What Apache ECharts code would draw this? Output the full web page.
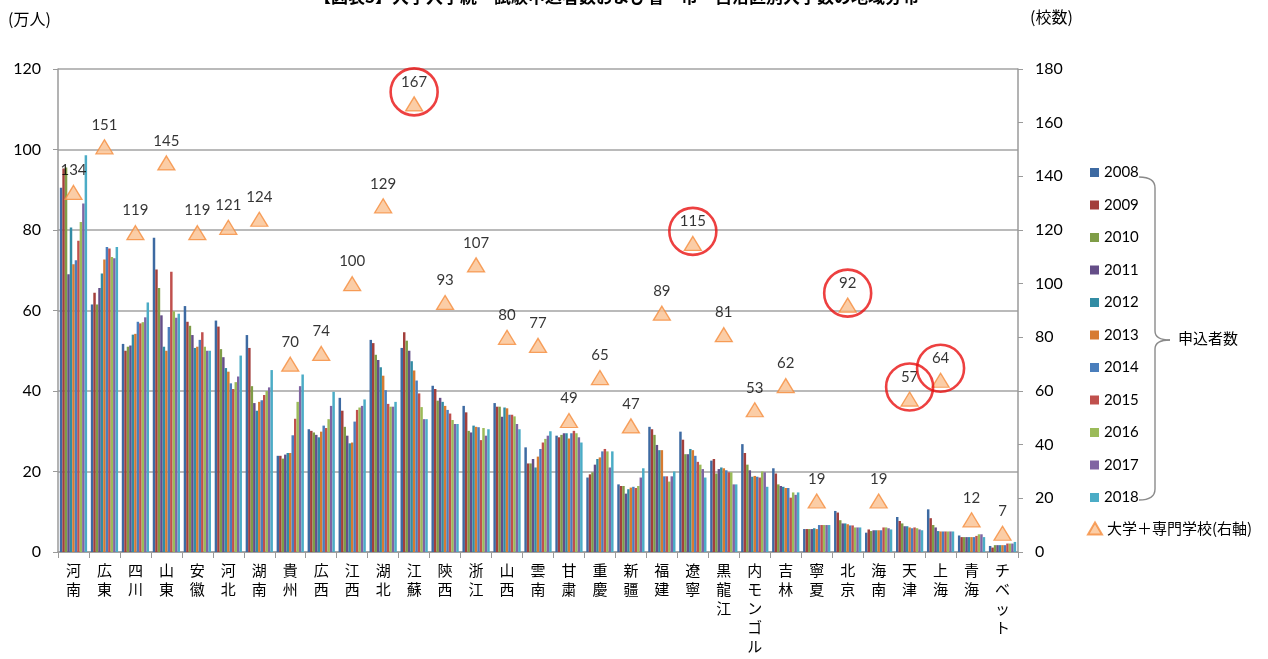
<!DOCTYPE html>
<html>
<head>
<meta charset="utf-8">
<script src="https://cdn.jsdelivr.net/npm/echarts@6/dist/echarts.min.js"></script>
<style>
  html, body { margin: 0; padding: 0; background: #fff; }
  #chart { width: 1268px; height: 659px; }
</style>
</head>
<body>
<div id="chart"></div>
<script>
// 省・市・自治区
const provinces = ['河南','広東','四川','山東','安徽','河北','湖南','貴州','広西','江西','湖北','江蘇','陝西','浙江','山西','雲南','甘粛','重慶','新疆','福建','遼寧','黒龍江','内モンゴル','吉林','寧夏','北京','海南','天津','上海','青海','チベット'];

// 申込者数（万人）
const years = ['2008','2009','2010','2011','2012','2013','2014','2015','2016','2017','2018'];
const y2008 = [90.5,61.5,51.7,78.1,61.1,57.5,53.9,23.9,30.5,38.3,52.7,50.7,41.3,36.3,37.0,26.0,28.9,18.5,16.8,31.1,29.9,22.7,26.8,20.8,5.7,10.2,4.8,8.7,10.6,4.1,1.5];
const y2009 = [95.3,64.4,50.0,70.2,57.2,56.0,50.7,23.9,30.1,35.1,51.9,54.6,40.5,34.7,36.1,22.0,28.5,19.3,16.4,30.5,27.9,23.1,24.6,19.5,5.7,9.8,5.6,7.7,8.4,3.7,1.1];
const y2010 = [95.5,61.5,51.0,65.6,56.2,50.4,41.2,23.2,29.7,31.1,49.0,52.5,37.6,30.1,36.1,22.0,29.1,19.8,16.4,29.1,24.3,19.5,21.7,16.8,5.7,7.9,5.2,7.1,6.7,3.7,1.7];
const y2011 = [69.0,65.6,51.3,58.8,53.9,48.4,37.0,24.2,29.1,28.9,47.7,50.0,38.3,29.7,33.6,23.1,29.5,21.7,14.5,26.6,24.3,20.6,20.3,16.4,5.7,7.1,5.4,6.4,6.1,3.7,1.7];
const y2012 = [80.6,69.2,54.0,51.0,50.7,45.7,35.1,24.6,28.5,27.0,45.9,47.4,37.3,31.4,35.9,21.0,29.5,23.1,15.6,25.3,25.6,21.0,18.7,16.2,5.9,7.1,5.4,6.4,5.2,3.7,1.7];
const y2013 = [71.5,72.7,54.2,50.0,51.0,44.8,37.3,24.6,29.9,27.2,43.8,45.1,36.3,31.1,35.7,23.7,28.2,23.5,16.0,25.3,25.3,20.8,18.9,15.9,5.7,6.9,5.4,6.1,5.1,3.7,1.7];
const y2014 = [72.5,75.8,57.2,55.9,52.7,41.9,37.7,29.0,31.4,32.4,40.2,42.6,35.3,31.0,34.1,25.6,29.5,25.0,16.2,18.8,23.9,20.3,18.7,15.9,6.7,6.6,5.4,5.9,5.1,3.7,1.7];
const y2015 = [77.3,75.4,56.8,69.6,54.6,40.5,39.0,33.1,30.8,35.3,36.8,39.4,34.4,27.8,34.1,27.2,30.1,25.6,15.9,18.8,22.4,19.8,18.5,13.5,6.7,6.6,6.1,6.1,5.1,4.0,2.1];
const y2016 = [82.0,73.3,57.1,59.8,51.0,42.2,40.0,37.3,33.0,35.9,36.1,36.0,32.8,30.8,33.7,28.1,29.5,25.0,16.4,17.5,21.7,19.8,20.0,14.8,6.7,6.1,6.1,5.9,5.1,4.4,2.1];
const y2017 = [86.6,73.0,58.3,58.2,50.0,43.6,40.9,41.2,36.3,36.3,36.1,33.0,31.8,28.9,31.8,28.9,28.5,21.0,18.5,18.8,20.6,16.8,19.8,14.2,6.7,6.1,5.9,5.6,5.1,4.4,2.1];
const y2018 = [98.6,75.8,62.0,59.2,50.0,48.8,45.2,44.1,39.8,37.9,37.3,33.0,31.8,30.5,30.5,30.0,27.2,25.0,20.8,20.0,18.5,16.8,16.2,14.8,6.7,6.1,5.6,5.4,5.1,3.7,2.5];
const applicants = [y2008,y2009,y2010,y2011,y2012,y2013,y2014,y2015,y2016,y2017,y2018];

// 大学＋専門学校の校数（右軸）
const schools = [134,151,119,145,119,121,124,70,74,100,129,167,93,107,80,77,49,65,47,89,115,81,53,62,19,92,19,57,64,12,7];

// 丸で囲む省・市
const highlighted = ['江蘇','遼寧','北京','天津','上海'];

// 目盛
const leftTicks = { min: 0, max: 120, interval: 20 };
const rightTicks = { min: 0, max: 180, interval: 20 };

const yearColors = ['#3D6AA2','#A33F3C','#7F9D47','#654E88','#328CA4','#D77B31','#4A7EBC','#C0504D','#9BBB59','#8064A2','#4BACC6'];

const numFont = "Lato, 'Liberation Sans', sans-serif";
const cjkFont = "'Noto Sans CJK JP', sans-serif";

const chart = echarts.init(document.getElementById('chart'), null, { renderer: 'canvas' });

const barSeries = years.map((y, i) => ({
  name: y,
  type: 'bar',
  yAxisIndex: 0,
  data: applicants[i],
  barGap: '0%',
  barCategoryGap: '12%',
  itemStyle: { color: yearColors[i] },
  emphasis: { disabled: true }
}));

const schoolName = '大学＋専門学校(右軸)';

// 申込者数をまとめる波括弧
const braceStyle = { stroke: '#8a8a8a', lineWidth: 1.4, fill: null };
const brace = [
  { type: 'bezierCurve', shape: { x1: 1139, y1: 177, x2: 1155, y2: 188, cpx1: 1155, cpy1: 177 }, style: braceStyle },
  { type: 'line', shape: { x1: 1155, y1: 188, x2: 1155, y2: 331 }, style: braceStyle },
  { type: 'bezierCurve', shape: { x1: 1155, y1: 331, x2: 1170, y2: 340, cpx1: 1155, cpy1: 340 }, style: braceStyle },
  { type: 'bezierCurve', shape: { x1: 1170, y1: 340, x2: 1155, y2: 349, cpx1: 1155, cpy1: 340 }, style: braceStyle },
  { type: 'line', shape: { x1: 1155, y1: 349, x2: 1155, y2: 489 }, style: braceStyle },
  { type: 'bezierCurve', shape: { x1: 1155, y1: 489, x2: 1139, y2: 500, cpx1: 1155, cpy1: 500 }, style: braceStyle }
];

const option = {
  animation: false,
  textStyle: { fontFamily: cjkFont },
  grid: { left: 58, right: 250, top: 69, bottom: 107, containLabel: false },
  legend: [
    {
      data: years,
      orient: 'vertical',
      left: 1085,
      top: 160,
      itemWidth: 9,
      itemHeight: 9,
      itemGap: 17.5,
      icon: 'rect',
      textStyle: { fontSize: 15, color: '#000', fontFamily: numFont },
      selectedMode: false
    },
    {
      data: [schoolName],
      orient: 'vertical',
      left: 1082,
      top: 516,
      itemWidth: 14,
      itemHeight: 12,
      itemGap: 5,
      textStyle: { fontSize: 15, color: '#000', fontFamily: cjkFont },
      selectedMode: false
    }
  ],
  xAxis: {
    type: 'category',
    data: provinces,
    axisLine: { lineStyle: { color: '#9a9a9a', width: 1.5 } },
    axisTick: { show: true, length: 6, lineStyle: { color: '#9a9a9a' } },
    axisLabel: {
      interval: 0,
      margin: 9,
      color: '#000',
      fontSize: 15,
      lineHeight: 19,
      fontFamily: cjkFont,
      formatter: v => v.split('').join('\n')
    }
  },
  yAxis: [
    {
      type: 'value',
      min: leftTicks.min, max: leftTicks.max, interval: leftTicks.interval,
      axisLine: { show: true, lineStyle: { color: '#9a9a9a', width: 1.5 } },
      axisTick: { show: true, length: 5, lineStyle: { color: '#9a9a9a' } },
      splitLine: { show: true, lineStyle: { color: '#a3a3a3', width: 1.6 } },
      axisLabel: { color: '#000', fontSize: 16, margin: 17, fontFamily: numFont }
    },
    {
      type: 'value',
      position: 'right',
      min: rightTicks.min, max: rightTicks.max, interval: rightTicks.interval,
      axisLine: { show: true, lineStyle: { color: '#9a9a9a', width: 1.5 } },
      axisTick: { show: true, length: 5, lineStyle: { color: '#9a9a9a' } },
      splitLine: { show: false },
      axisLabel: { color: '#000', fontSize: 16, margin: 17, fontFamily: numFont }
    }
  ],
  series: barSeries.concat([
    {
      name: schoolName,
      type: 'scatter',
      yAxisIndex: 1,
      data: schools,
      symbol: 'triangle',
      symbolSize: [17, 14],
      z: 5,
      itemStyle: { color: '#FAC090', borderColor: '#F58C3C', borderWidth: 1.3 },
      label: {
        show: true,
        position: 'top',
        distance: 7,
        color: '#000',
        fontSize: 15,
        fontFamily: numFont
      },
      emphasis: { disabled: true }
    },
    {
      name: 'highlight',
      type: 'scatter',
      yAxisIndex: 1,
      data: provinces.map((p, i) => highlighted.includes(p) ? schools[i] : '-'),
      symbol: 'circle',
      symbolSize: 47,
      symbolOffset: [0, -12],
      z: 6,
      silent: true,
      itemStyle: { color: 'rgba(0,0,0,0)', borderColor: '#E81010', borderWidth: 2.6, borderType: 'solid' },
      emphasis: { disabled: true }
    }
  ]),
  graphic: [
    {
      type: 'text', x: 314, y: -12,
      style: { text: '【図表3】大学入学統一試験申込者数および省・市・自治区別大学数の地域分布', font: "bold 17px 'Noto Sans CJK JP'", fill: '#000' }
    },
    {
      type: 'text', x: 8, y: 11,
      style: { text: '(万人)', font: "16px 'Noto Sans CJK JP'", fill: '#000' }
    },
    {
      type: 'text', x: 1030, y: 9,
      style: { text: '(校数)', font: "16px 'Noto Sans CJK JP'", fill: '#000' }
    },
    {
      type: 'text', x: 1178, y: 331,
      style: { text: '申込者数', font: "15px 'Noto Sans CJK JP'", fill: '#000' }
    }
  ].concat(brace)
};

chart.setOption(option);
</script>
</body>
</html>
